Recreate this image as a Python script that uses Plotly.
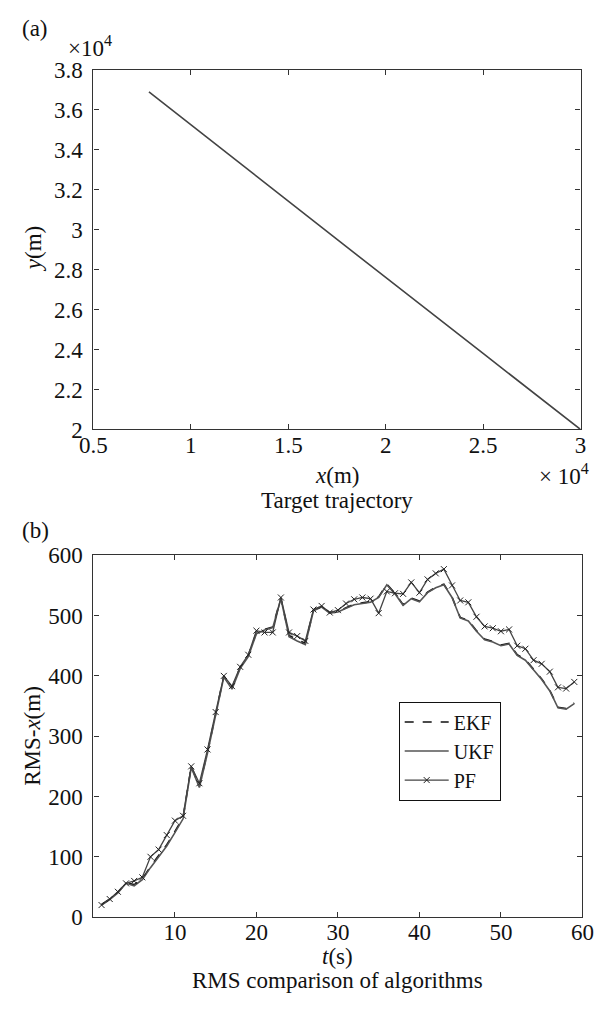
import plotly.graph_objects as go

# (a) target trajectory, metres
traj_x = [7850, 15000, 20000, 25000, 30000]
traj_y = [36880, 31400, 27600, 23800, 20000]

# (b) RMS-x comparison
t = list(range(1, 60))
pf = [20, 30, 42, 56, 60, 66, 100, 112, 136, 160, 168, 250, 222, 278, 340, 400, 383, 415, 435, 475,
      472, 472, 530, 472, 466, 458, 510, 516, 505, 509, 520, 527, 530, 528, 504, 540, 537, 536, 555, 538,
      560, 570, 577, 550, 525, 522, 498, 482, 479, 474, 477, 450, 445, 426, 420, 407, 381, 379, 390]
ukf = [20, 29, 40, 56, 52, 62, 82, 100, 118, 140, 163, 248, 215, 272, 335, 398, 378, 412, 432, 470,
       476, 480, 528, 465, 458, 452, 508, 514, 504, 506, 512, 518, 520, 522, 530, 551, 536, 517, 528, 523,
       538, 546, 551, 530, 496, 491, 474, 460, 456, 450, 453, 434, 426, 410, 394, 375, 347, 345, 354]
ekf = [21, 30, 41, 57, 54, 63, 84, 102, 120, 142, 165, 250, 217, 274, 337, 400, 380, 414, 434, 472,
       477, 481, 529, 467, 460, 454, 509, 515, 505, 507, 513, 519, 521, 523, 531, 552, 537, 518, 529, 524,
       539, 547, 552, 531, 497, 492, 475, 461, 457, 451, 454, 435, 427, 411, 395, 376, 348, 346, 355]

x_ticks_a = [5000, 10000, 15000, 20000, 25000, 30000]
x_ticklabels_a = ["0.5", "1", "1.5", "2", "2.5", "3"]
y_ticks_a = [20000, 22000, 24000, 26000, 28000, 30000, 32000, 34000, 36000, 38000]
y_ticklabels_a = ["2", "2.2", "2.4", "2.6", "2.8", "3", "3.2", "3.4", "3.6", "3.8"]
x_ticks_b = [10, 20, 30, 40, 50, 60]
y_ticks_b = [0, 100, 200, 300, 400, 500, 600]

W, H = 604, 1014
FONT = "Liberation Serif, Times New Roman, serif"
FS = 23
AX = "#333333"
TXT = "#111111"

def px(x):
    return x / W

def py(y):
    return 1 - y / H

fig = go.Figure()

fig.add_trace(go.Scatter(x=traj_x, y=traj_y, mode="lines",
                         line=dict(color="#444444", width=1.6),
                         showlegend=False, xaxis="x", yaxis="y"))

fig.add_trace(go.Scatter(x=t, y=ekf, mode="lines", name="EKF",
                         line=dict(color="#111111", width=1.6, dash="dash"),
                         xaxis="x2", yaxis="y2"))
fig.add_trace(go.Scatter(x=t, y=ukf, mode="lines", name="UKF",
                         line=dict(color="#555555", width=1.6),
                         xaxis="x2", yaxis="y2"))
fig.add_trace(go.Scatter(x=t, y=pf, mode="lines+markers", name="PF",
                         line=dict(color="#444444", width=1.3),
                         marker=dict(symbol="x-thin", size=6, line=dict(width=1, color="#222222")),
                         xaxis="x2", yaxis="y2"))

common = dict(showline=True, linecolor=AX, linewidth=1.2, mirror="ticks", ticks="inside",
              ticklen=5, tickcolor=AX, showgrid=False, zeroline=False,
              tickfont=dict(family=FONT, size=FS, color=TXT))

fig.update_layout(
    width=W, height=H,
    margin=dict(l=0, r=0, t=0, b=0),
    paper_bgcolor="white", plot_bgcolor="white",
    font=dict(family=FONT, size=FS, color=TXT),
    xaxis=dict(domain=[px(83), px(592)], range=[5000, 30000], tickvals=x_ticks_a,
               ticktext=x_ticklabels_a, anchor="y", ticklabelstandoff=-5, **common),
    yaxis=dict(domain=[py(428), py(59)], range=[20000, 38000], tickvals=y_ticks_a,
               ticktext=y_ticklabels_a, anchor="x", ticklabelstandoff=5, **common),
    xaxis2=dict(domain=[px(83), px(594)], range=[0, 60], tickvals=x_ticks_b,
                anchor="y2", ticklabelstandoff=-6, **common),
    yaxis2=dict(domain=[py(928), py(557)], range=[0, 600], tickvals=y_ticks_b,
                anchor="x2", ticklabelstandoff=5, **common),
    legend=dict(x=px(402), y=py(707), xanchor="left", yanchor="top",
                bgcolor="white", bordercolor="#111111", borderwidth=1,
                font=dict(family=FONT, size=20, color=TXT),
                itemwidth=44, entrywidth=68, tracegroupgap=0),
)

ann = [
    dict(text="(a)", x=px(6), y=py(17), xanchor="left"),
    dict(text="×10<sup>4</sup>", x=px(54), y=py(35), xanchor="left"),
    dict(text="<i>y</i>(m)", x=px(20), y=py(243), textangle=-90),
    dict(text="<i>x</i>(m)", x=px(338), y=py(475)),
    dict(text="× 10<sup>4</sup>", x=px(603), y=py(474), xanchor="right"),
    dict(text="Target trajectory", x=px(338), y=py(501)),
    dict(text="(b)", x=px(6), y=py(532), xanchor="left"),
    dict(text="RMS-<i>x</i>(m)", x=px(20), y=py(742), textangle=-90),
    dict(text="<i>t</i>(s)", x=px(338), y=py(968)),
    dict(text="RMS comparison of algorithms", x=px(338), y=py(993)),
]
for a in ann:
    a.setdefault("xanchor", "center")
    fig.add_annotation(xref="paper", yref="paper", showarrow=False, yanchor="middle",
                       font=dict(family=FONT, size=FS, color=TXT), **a)

fig.write_html("out.html")
